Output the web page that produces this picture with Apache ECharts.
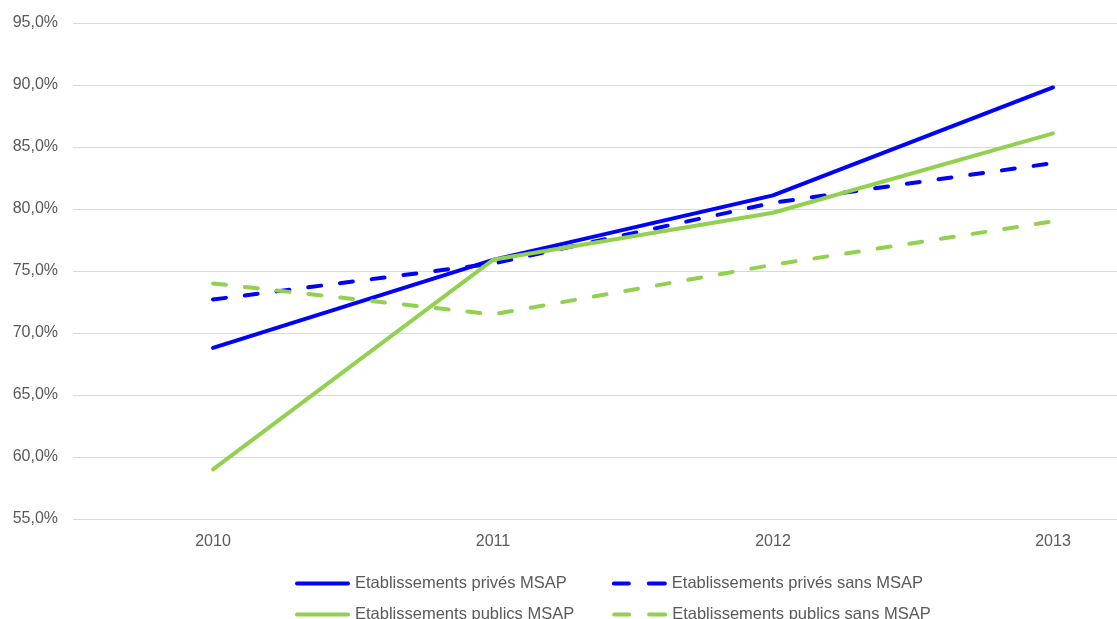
<!DOCTYPE html>
<html><head><meta charset="utf-8">
<script src="https://cdn.jsdelivr.net/npm/echarts@6/dist/echarts.min.js"></script>
<style>html,body{margin:0;padding:0;background:#fff}#c{width:1117px;height:619px}</style>
</head><body><div id="c"></div>
<script>
const years = ['2010','2011','2012','2013'];
const privesMSAP = [68.8, 75.9, 81.1, 89.8];
const privesSansMSAP = [72.7, 75.6, 80.5, 83.7];
const publicsMSAP = [59.0, 75.9, 79.7, 86.1];
const publicsSansMSAP = [74.0, 71.5, 75.5, 79.0];
const names = ['Etablissements privés MSAP','Etablissements privés sans MSAP','Etablissements publics MSAP','Etablissements publics sans MSAP'];

const blue = '#0000FF', green = '#92D050';
const FONT = "'Liberation Sans', Arial, sans-serif";
const chart = echarts.init(document.getElementById('c'));
function ser(name, data, color, dashed){
  return {name, type:'line', data, symbol:'none', smooth:false,
    lineStyle:{color, width:4, type: dashed ? [13,19] : 'solid', cap:'round'},
    itemStyle:{color}};
}
const solidIcon = 'path://M2,0H53A2,2,0,0,1,53,4H2A2,2,0,0,1,2,0Z';
const dashIcon = 'path://M2,0H17A2,2,0,0,1,17,4H2A2,2,0,0,1,2,0Z M37,0H53A2,2,0,0,1,53,4H37A2,2,0,0,1,37,0Z';
const legendText = {color:'#595959', fontSize:16.5, fontFamily:FONT};
function legItems(i, j){
  return [
    {name:names[i], icon:solidIcon},
    {name:names[j], icon:dashIcon}
  ];
}
chart.setOption({
  animation:false,
  grid:{left:73, top:23, right:-76, bottom:100, outerBoundsMode:'none', containLabel:false},
  legend:[
    {data:legItems(0,1), left:290, top:570, itemWidth:55, itemHeight:4, itemGap:45, textStyle:legendText,
      itemStyle:{borderWidth:0}, lineStyle:{width:0}},
    {data:legItems(2,3), left:290, top:601, itemWidth:55, itemHeight:4, itemGap:38, textStyle:legendText,
      itemStyle:{borderWidth:0}, lineStyle:{width:0}}
  ],
  xAxis:{type:'category', data:years, boundaryGap:true,
    axisLine:{show:false}, axisTick:{show:false},
    axisLabel:{color:'#595959', fontSize:16, fontFamily:FONT, margin:15}},
  yAxis:{type:'value', min:55, max:95, interval:5,
    axisLine:{show:false}, axisTick:{show:false},
    splitLine:{lineStyle:{color:'#d9d9d9', width:1}},
    axisLabel:{color:'#595959', fontSize:16, fontFamily:FONT, margin:15,
      formatter:v=>v.toFixed(1).replace('.',',')+'%'}},
  series:[
    ser(names[0], privesMSAP, blue, false),
    ser(names[1], privesSansMSAP, blue, true),
    ser(names[2], publicsMSAP, green, false),
    ser(names[3], publicsSansMSAP, green, true)
  ]
});
</script></body></html>
